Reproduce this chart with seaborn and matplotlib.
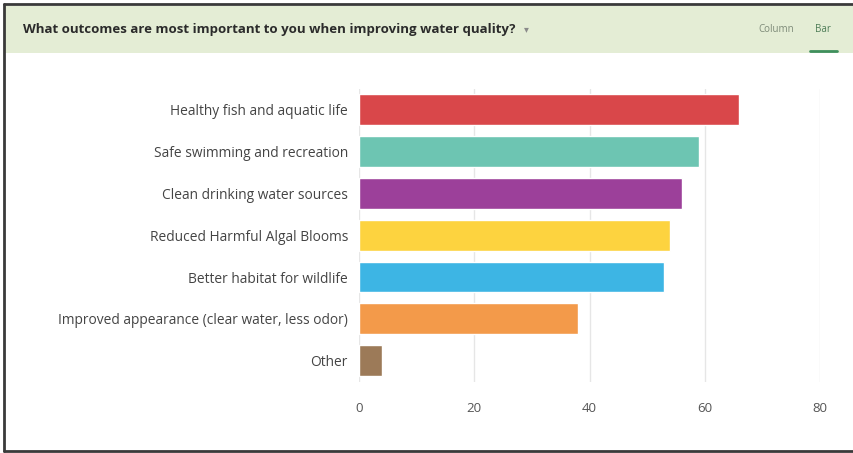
import matplotlib
matplotlib.use("Agg")
import matplotlib.pyplot as plt
from matplotlib.patches import Rectangle
from matplotlib.lines import Line2D
import seaborn as sns
import pandas as pd

# Survey responses
outcomes = [
    "Healthy fish and aquatic life",
    "Safe swimming and recreation",
    "Clean drinking water sources",
    "Reduced Harmful Algal Blooms",
    "Better habitat for wildlife",
    "Improved appearance (clear water, less odor)",
    "Other",
]
counts = [66, 59, 56, 54, 53, 38, 4]
bar_colors = ["#d9474a", "#6dc5b2", "#9c409a", "#fdd33f", "#3db5e4", "#f39a4a", "#9c7a58"]
x_ticks = [0, 20, 40, 60, 80]
question = "What outcomes are most important to you when improving water quality?"

sns.set_theme(style="white")
plt.rcParams["font.family"] = ["Open Sans", "DejaVu Sans"]

W, H = 854, 453
fig = plt.figure(figsize=(W / 100, H / 100), dpi=100)
fig.patch.set_facecolor("white")

def fx(px):
    return px / W

def fy(py):
    return 1 - py / H

# Header band
fig.patches.append(Rectangle((fx(5), fy(53)), fx(849), 47 / H, transform=fig.transFigure,
                             facecolor="#e4edd5", edgecolor="none", zorder=0))
fig.text(fx(23), fy(29), question, fontsize=9.5, fontweight="bold", color="#2b2b2b",
         va="center", ha="left")
fig.text(fx(526), fy(29), "▾", fontsize=7, color="#8a8a8a", va="center", ha="center",
         family=["DejaVu Sans"])
fig.text(fx(776), fy(29), "Column", fontsize=7, color="#7d8a78", va="center", ha="center")
fig.text(fx(823), fy(29), "Bar", fontsize=7, color="#4e7d57", va="center", ha="center")
fig.lines.append(Line2D([fx(810), fx(837)], [fy(51), fy(51)], transform=fig.transFigure,
                        color="#3f8f5c", linewidth=2))

# Outer frame
frame_kw = dict(transform=fig.transFigure, color="#3a3a3a", linewidth=2)
fig.lines.append(Line2D([fx(4), fx(854)], [fy(4), fy(4)], **frame_kw))
fig.lines.append(Line2D([fx(4), fx(4)], [fy(4), fy(451)], **frame_kw))
fig.lines.append(Line2D([fx(4), fx(854)], [fy(451), fy(451)], **frame_kw))

# Bar chart
ax = fig.add_axes([fx(359), fy(381.5), fx(820 - 359), (381.5 - 89) / H])
df = pd.DataFrame({"outcome": outcomes, "count": counts})
sns.barplot(data=df, x="count", y="outcome", hue="outcome", palette=bar_colors,
            order=outcomes, legend=False, width=0.74, saturation=1, ax=ax)

ax.set_xlim(0, 80)
ax.set_xticks(x_ticks)
ax.set_xticklabels([str(t) for t in x_ticks])
ax.set_xlabel("")
ax.set_ylabel("")
ax.grid(axis="x", color="#e6e6e6", linewidth=1)
ax.set_axisbelow(True)
for s in ax.spines.values():
    s.set_visible(False)
ax.tick_params(axis="x", length=0, pad=15, labelsize=9.5, labelcolor="#555555")
ax.tick_params(axis="y", length=0, pad=8, labelsize=9.9, labelcolor="#444444")
ax.set_facecolor("none")

fig.savefig("out.png", dpi=100)
